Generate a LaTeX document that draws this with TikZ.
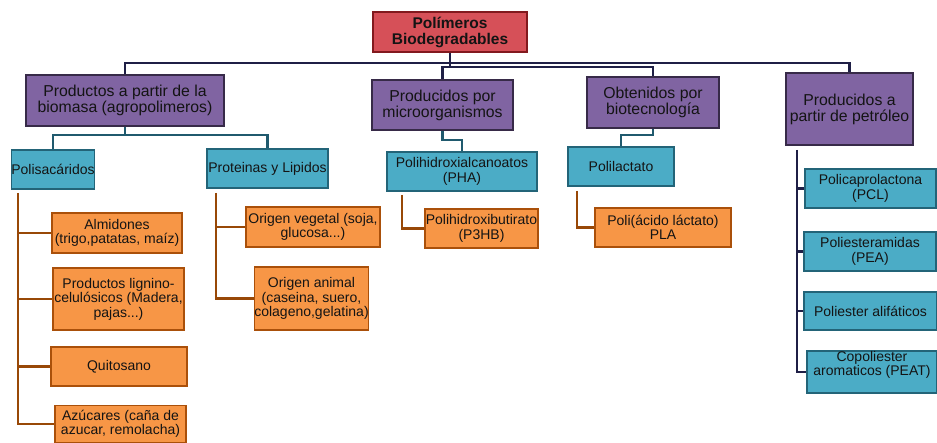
\documentclass[tikz,border=0pt]{standalone}
\usepackage{fontspec}
\setmainfont{Liberation Sans}
\definecolor{redfill}{RGB}{214,80,88}
\definecolor{redline}{RGB}{130,25,30}
\definecolor{purfill}{RGB}{128,100,162}
\definecolor{purline}{RGB}{55,42,72}
\definecolor{tealfill}{RGB}{75,172,198}
\definecolor{tealline}{RGB}{35,100,120}
\definecolor{orfill}{RGB}{247,150,70}
\definecolor{orline}{RGB}{170,80,10}
\definecolor{brownc}{RGB}{152,72,7}
\definecolor{navyc}{RGB}{31,31,70}
\definecolor{tealc}{RGB}{32,90,110}
\definecolor{txt}{RGB}{20,20,20}
\tikzset{
  basebox/.style={rectangle, inner sep=0pt, align=center, text=txt, line width=1.4pt},
  rootbox/.style={basebox, fill=redfill, draw=redline, font=\fontsize{15.5}{16}\selectfont\bfseries},
  catbox/.style={basebox, fill=purfill, draw=purline, font=\fontsize{15.8}{16}\selectfont},
  subbox/.style={basebox, fill=tealfill, draw=tealline, font=\fontsize{14}{14.5}\selectfont},
  leafbox/.style={basebox, fill=orfill, draw=orline, font=\fontsize{14}{14.5}\selectfont},
  navyconn/.style={draw=navyc, line width=2.4pt},
  tealconn/.style={draw=tealc, line width=2.4pt},
  brownconn/.style={draw=brownc, line width=2.4pt},
}
\begin{document}
\begin{tikzpicture}[x=1pt,y=-1pt]
\useasboundingbox[fill=white] (0,0) rectangle (937,443);

% root
\node[rootbox, minimum width=154pt, minimum height=40pt] (root) at (450,32) {Polímeros\\Biodegradables};

% categories
\node[catbox, minimum width=198pt, minimum height=51pt] (bio) at (125,100.5) {Productos a partir de la\\biomasa (agropolimeros)};
\node[catbox, minimum width=141pt, minimum height=50pt] (micro) at (442.5,105) {Producidos por\\microorganismos};
\node[catbox, minimum width=132pt, minimum height=51pt] (obt) at (653,102.5) {Obtenidos por\\biotecnología};
\node[catbox, minimum width=127pt, minimum height=72pt] (petro) at (849.5,109) {Producidos a\\partir de petróleo};

% teal subcategories
\node[subbox, minimum width=82pt, minimum height=39pt] (polis) at (53,169.5) {Polisacáridos};
\node[subbox, minimum width=121pt, minimum height=39pt] (prot) at (267.5,168.5) {Proteinas y Lipidos};
\node[subbox, minimum width=150pt, minimum height=39pt] (pha) at (462,171.5) {Polihidroxialcanoatos\\(PHA)};
\node[subbox, minimum width=106pt, minimum height=39pt] (polil) at (621,166.5) {Polilactato};
\node[subbox, minimum width=131pt, minimum height=39pt] (pcl) at (870.5,188.5) {Policaprolactona\\(PCL)};
\node[subbox, minimum width=132pt, minimum height=39pt] (pea) at (870,251.5) {Poliesteramidas\\(PEA)};
\node[subbox, minimum width=133pt, minimum height=38pt] (alif) at (870.5,311) {Poliester alifáticos};
\node[subbox, minimum width=130pt, minimum height=42pt] (copol) at (872,372) {Copoliester\\aromaticos (PEAT)\\[3pt]};

% orange leaves
\node[leafbox, minimum width=130pt, minimum height=40pt] (almid) at (117,233) {Almidones\\(trigo,patatas, maíz)};
\node[leafbox, minimum width=131pt, minimum height=62pt] (lign) at (118.5,299) {Productos lignino-\\celulósicos (Madera,\\pajas...)};
\node[leafbox, minimum width=136pt, minimum height=39pt] (quit) at (119,366.5) {Quitosano};
\node[leafbox, minimum width=131pt, minimum height=37pt] (azuc) at (120.5,424) {Azúcares  (caña de\\azucar, remolacha)};
\node[leafbox, minimum width=134pt, minimum height=40pt] (veg) at (313,227) {Origen vegetal (soja,\\glucosa...)};
\node[leafbox, minimum width=113pt, minimum height=63pt] (anim) at (311.5,298.5) {Origen animal\\(caseina, suero,\\colageno,gelatina)};
\node[leafbox, minimum width=113pt, minimum height=39pt] (p3hb) at (481.5,228.5) {Polihidroxibutirato\\(P3HB)};
\node[leafbox, minimum width=136pt, minimum height=39pt] (pla) at (663,227.5) {Poli(ácido láctato)\\PLA};

% top navy connectors
\coordinate (hub) at (450,63);
\coordinate (hubb) at (450,67);
\draw[navyconn] (root.south) -- (hubb);
\draw[navyconn] (hub) -| (bio.north);
\draw[navyconn] (hub) -| (petro.north);
\draw[navyconn] (hubb) -| (obt.north);
\draw[navyconn] (hubb) -| (micro.north);

% teal connectors
\coordinate (tb) at (125,135);
\draw[tealconn] (bio.south) -- (tb);
\draw[tealconn] (polis.north) |- (tb) -| (prot.north);
\coordinate (tm) at (442.5,140);
\draw[tealconn] (micro.south) -- (tm) -| (pha.north);
\coordinate (to) at (653,135);
\draw[tealconn] (obt.south) -- (to) -| (polil.north);

% brown connectors
\coordinate (ps) at (18,193);
\draw[brownconn] (ps) |- (azuc.west);
\draw[brownconn] (ps |- almid.west) -- (almid.west);
\draw[brownconn] (ps |- lign.west) -- (lign.west);
\draw[brownconn] (ps |- quit.west) -- (quit.west);
\coordinate (pr) at (216,193);
\draw[brownconn] (pr) |- (anim.west);
\draw[brownconn] (pr |- veg.west) -- (veg.west);
\coordinate (ph) at (402,195);
\draw[brownconn] (ph) |- (p3hb.west);
\coordinate (pl) at (577,191);
\draw[brownconn] (pl) |- (pla.west);

% petroleum connectors
\coordinate (pt) at (797,150);
\draw[navyconn] (pt) |- (copol.west);
\draw[navyconn] (pt |- pcl.west) -- (pcl.west);
\draw[navyconn] (pt |- pea.west) -- (pea.west);
\draw[navyconn] (pt |- alif.west) -- (alif.west);
\end{tikzpicture}
\end{document}
